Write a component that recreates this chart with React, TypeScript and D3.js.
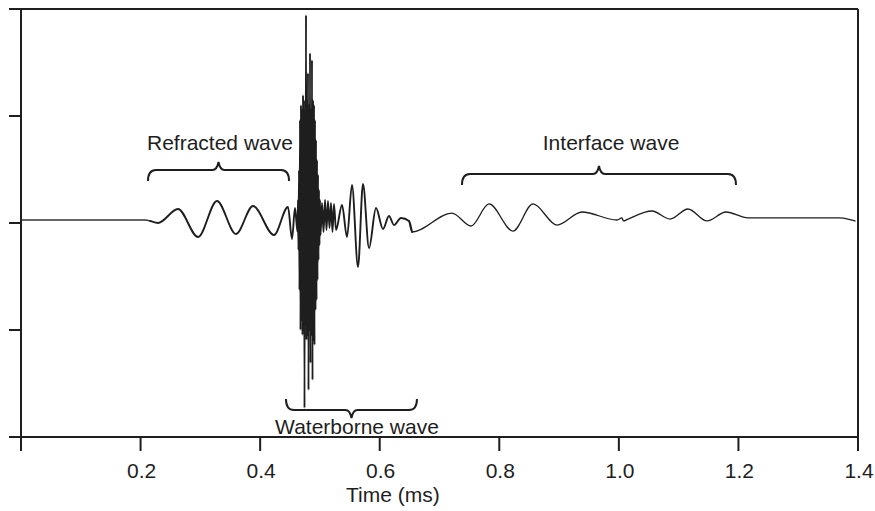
import React from "react";
import * as d3 from "d3";

// Time (ms) of each sample
const times = [
  0, 0.1489, 0.2074, 0.2158, 0.2291, 0.2626, 0.2961, 0.3278, 0.3596, 0.388, 0.4232, 0.4466, 0.4533, 0.4583,
  0.4625, 0.4633, 0.4641, 0.465, 0.4658, 0.4667, 0.4675, 0.4683, 0.4692, 0.47, 0.4708, 0.4717, 0.4725, 0.4733,
  0.4742, 0.475, 0.4759, 0.4767, 0.4775, 0.4784, 0.4792, 0.48, 0.4809, 0.4817, 0.4826, 0.4834, 0.4842, 0.4851,
  0.4859, 0.4867, 0.4876, 0.4884, 0.4892, 0.4901, 0.4909, 0.4917, 0.4926, 0.4934, 0.4943, 0.4951, 0.4959, 0.4968,
  0.4976, 0.4984, 0.4993, 0.5001, 0.501,
  0.5035, 0.506, 0.5085, 0.511, 0.5135, 0.516, 0.5185, 0.521, 0.5235, 0.5269, 0.5369, 0.5453, 0.5536, 0.5637,
  0.572, 0.5821, 0.5938, 0.6055, 0.6155, 0.6239, 0.6356, 0.649, 0.654,
  0.7209, 0.7527, 0.7828, 0.8229, 0.8564, 0.8965, 0.9383, 0.9969, 1.0052, 1.0077, 1.0153, 1.0554, 1.0855,
  1.1156, 1.1474, 1.1792, 1.216, 1.3699, 1.3832, 1.395,
];

// Amplitude of each sample (arbitrary units)
const amps = [
  0.28, 0.28, 0.28, 0.19, 0, 1.31, -1.31, 2.06, -1.03, 1.59, -1.12, 1.5, -1.5, 1.4,
  -0.84, 2.15, -2.52, 4.95, -6.26, 9.63, -10.0, 11.03, -9.07, 10.56, -10.47, 11.96, -10.0, 11.5,
  -17.29, 10.56, -9.53, 19.44, -10.93, 11.5, -10.47, 14.02, -15.61, 11.03, -10.0, 15.89, -13.08, 10.56,
  -10.47, 15.23, -14.67, 11.5, -10.93, 11.03, -11.4, 9.63, -8.13, 7.76, -7.2, 5.89, -5.33, 4.49,
  -3.46, 3.08, -2.06, 2.15, -1.12,
  1.87, -0.84, 2.15, -0.65, 2.06, -0.47, 1.87, -0.84, 1.78, -0.65, 1.68, -1.31, 3.55, -4.11,
  3.64, -2.34, 1.4, -0.56, 0.65, -0.19, 0.47, 0.19, -0.84,
  0.93, -0.28, 1.78, -0.75, 1.78, -0.19, 1.03, 0.28, 0.47, 0.19, 0.37, 1.12, 0.37,
  1.31, 0.19, 1.03, 0.47, 0.47, 0.37, 0.19,
];

const xTicks = [0, 0.2, 0.4, 0.6, 0.8, 1.0, 1.2, 1.4];
const yTicks = [-20, -10, 0, 10, 20];

// Annotation braces: label, start/end time, amplitude level, orientation, label centre time
const braceLabels = ["Refracted wave", "Waterborne wave", "Interface wave"];
const braceStart = [0.2124, 0.4432, 0.7376];
const braceEnd = [0.4483, 0.6623, 1.1959];
const braceLevel = [4.95, -17.48, 4.58];
const braceUp = [true, false, true];
const labelTime = [0.3328, 0.562, 0.987];
const labelLevel = [6.8, -19.7, 6.8];

const xTitle = "Time (ms)";
const xTitleTime = 0.622;

const W = 875;
const H = 511;
const FONT = "'Liberation Sans', Arial, Helvetica, sans-serif";
const INK = "#1e1e1e";

export default function App() {
  const x = d3.scaleLinear().domain([0, 1.4]).range([21, 858]);
  const y = d3.scaleLinear().domain([-20, 20]).range([437, 9]);

  const pts: [number, number][] = times.map((t, i) => [t, amps[i]]);
  const line = d3
    .line<[number, number]>()
    .x((d) => x(d[0]))
    .y((d) => y(d[1]))
    .curve(d3.curveMonotoneX);

  const segA = pts.filter((d) => d[0] <= 0.2158);
  const segB = pts.filter((d) => d[0] >= 0.2158 && d[0] <= 0.654);
  const segC = pts.filter((d) => d[0] >= 0.649);

  const bracePath = (i: number) => {
    const x0 = x(braceStart[i]);
    const x1 = x(braceEnd[i]);
    const xm = (x0 + x1) / 2;
    const yh = y(braceLevel[i]);
    const s = braceUp[i] ? 1 : -1;
    const yEnd = yh + 11 * s;
    const yTip = yh - 8 * s;
    const p = d3.path();
    p.moveTo(x0, yEnd);
    p.quadraticCurveTo(x0, yh, x0 + 8, yh);
    p.lineTo(xm - 6, yh);
    p.quadraticCurveTo(xm - 1.5, yh, xm, yTip);
    p.quadraticCurveTo(xm + 1.5, yh, xm + 6, yh);
    p.lineTo(x1 - 8, yh);
    p.quadraticCurveTo(x1, yh, x1, yEnd);
    return p.toString();
  };

  const fmt = d3.format(".1f");

  return (
    <svg
      width={W}
      height={H}
      style={{ position: "absolute", left: 0, top: 0, background: "#fff" }}
      fontFamily={FONT}
    >
      <rect x={0} y={0} width={W} height={H} fill="#fff" />
      {/* frame */}
      <g stroke={INK} strokeWidth={2} fill="none">
        <line x1={x(0)} x2={x(1.4)} y1={y(20)} y2={y(20)} />
        <line x1={x(0)} x2={x(1.4)} y1={y(-20)} y2={y(-20)} />
        <line x1={x(0)} x2={x(0)} y1={y(20)} y2={y(-20) + 14} />
        <line x1={x(1.4)} x2={x(1.4)} y1={y(20)} y2={y(-20) + 14} />
        {yTicks.map((v) => (
          <line key={"yt" + v} x1={x(0) - 12} x2={x(0)} y1={y(v)} y2={y(v)} />
        ))}
        {xTicks.map((v) => (
          <line key={"xt" + v} x1={x(v)} x2={x(v)} y1={y(-20)} y2={y(-20) + 14} />
        ))}
      </g>
      {/* tick labels */}
      <g fill={INK} fontSize={21} textAnchor="middle">
        {xTicks
          .filter((v) => v > 0)
          .map((v) => (
            <text key={"xl" + v} x={x(v) + 1} y={478}>
              {fmt(v)}
            </text>
          ))}
        <text x={x(xTitleTime)} y={502}>
          {xTitle}
        </text>
      </g>
      {/* trace */}
      <g fill="none" stroke={INK} strokeLinejoin="round" strokeLinecap="round">
        <path d={line(segA) || ""} strokeWidth={1.3} stroke="#333" />
        <path d={line(segB) || ""} strokeWidth={1.9} />
        <path d={line(segC) || ""} strokeWidth={1.3} />
      </g>
      {/* braces and labels */}
      {braceLabels.map((lab, i) => (
        <g key={lab}>
          <path d={bracePath(i)} fill="none" stroke={INK} strokeWidth={2} />
          <text
            x={x(labelTime[i])}
            y={y(labelLevel[i])}
            fontSize={21}
            textAnchor="middle"
            fill={INK}
          >
            {lab}
          </text>
        </g>
      ))}
    </svg>
  );
}
